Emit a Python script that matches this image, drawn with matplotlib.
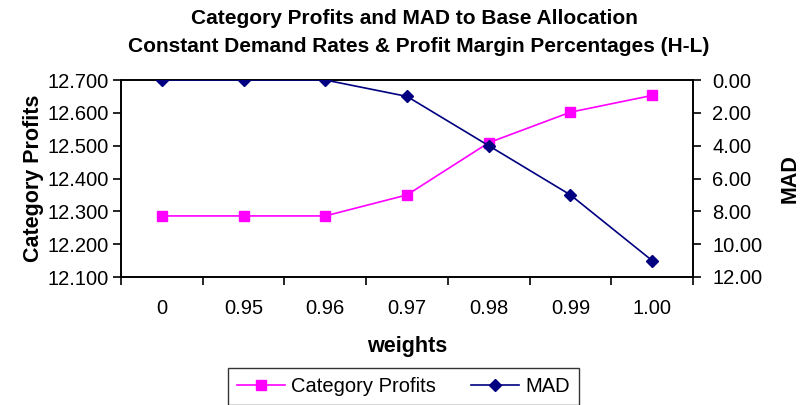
import matplotlib
matplotlib.use("Agg")
from matplotlib import pyplot as plt
import numpy as np

plt.rcParams['font.family'] = ['Liberation Sans', 'DejaVu Sans']

weights = ["0", "0.95", "0.96", "0.97", "0.98", "0.99", "1.00"]
profits = [12.286, 12.286, 12.286, 12.350, 12.509, 12.602, 12.653]
mad = [0.0, 0.0, 0.0, 1.0, 4.0, 7.0, 11.0]

W, H = 801, 405
fig = plt.figure(figsize=(W / 100, H / 100), dpi=100)
# plot area in pixels: left 121, right 693, top 80, bottom 277
ax = fig.add_axes([121 / W, 1 - 277 / H, (693 - 121) / W, (277 - 80) / H])
ax2 = ax.twinx()

x = np.arange(len(weights))
l1, = ax.plot(x, profits, color='#ff00ff', marker='s', markersize=7.5, lw=1.2,
              label='Category Profits', zorder=3)
l2, = ax2.plot(x, mad, color='#000080', marker='D', markersize=6.5, lw=1.2,
               label='MAD', zorder=3)

ax.set_xlim(-0.5, len(weights) - 0.5)
ax.set_xticks(np.arange(len(weights) + 1) - 0.5)
ax.set_xticklabels([])
ax.set_xticks(x, minor=True)
ax.set_xticklabels(weights, minor=True)
ax.tick_params(axis='x', which='major', direction='out', length=6, width=1.2)
ax.tick_params(axis='x', which='minor', length=0, pad=16, labelsize=14.5)

ax.set_ylim(12.1, 12.7)
ax.set_yticks(np.arange(12.1, 12.71, 0.1))
ax.set_yticklabels(["%.3f" % v for v in np.arange(12.1, 12.71, 0.1)])
ax.tick_params(axis='y', direction='out', length=6, width=1.2, labelsize=14.5,
               pad=3)

ax2.set_ylim(12, 0)
ax2.set_yticks(np.arange(0, 13, 2))
ax2.set_yticklabels(["%.2f" % v for v in np.arange(0, 13, 2)])
ax2.tick_params(axis='y', direction='out', length=6, width=1.2, labelsize=14.5,
                pad=8)

for a in (ax, ax2):
    for s in a.spines.values():
        s.set_linewidth(1.2)

ax.set_ylabel("Category Profits", fontsize=15.5, fontweight='bold', labelpad=2)
ax2.set_ylabel("MAD", fontsize=15.5, fontweight='bold', labelpad=12)
ax.set_xlabel("weights", fontsize=15.5, fontweight='bold', labelpad=13)

fig.text(414 / W, 1 - 18 / H, "Category Profits and MAD to Base Allocation",
         ha='center', va='center', fontsize=15, fontweight='bold')
fig.text(419 / W, 1 - 46 / H,
         "Constant Demand Rates & Profit Margin Percentages (H-L)",
         ha='center', va='center', fontsize=15, fontweight='bold')

leg = fig.legend(handles=[l1, l2], loc='upper left',
                 bbox_to_anchor=(228 / W, 1 - 368 / H), ncol=2, fontsize=14.5,
                 frameon=True, fancybox=False, edgecolor='black',
                 handlelength=2.4, handletextpad=0.3, columnspacing=1.7,
                 borderpad=0.45, borderaxespad=0)
leg.get_frame().set_linewidth(1.0)

fig.savefig("out.png", dpi=100)
